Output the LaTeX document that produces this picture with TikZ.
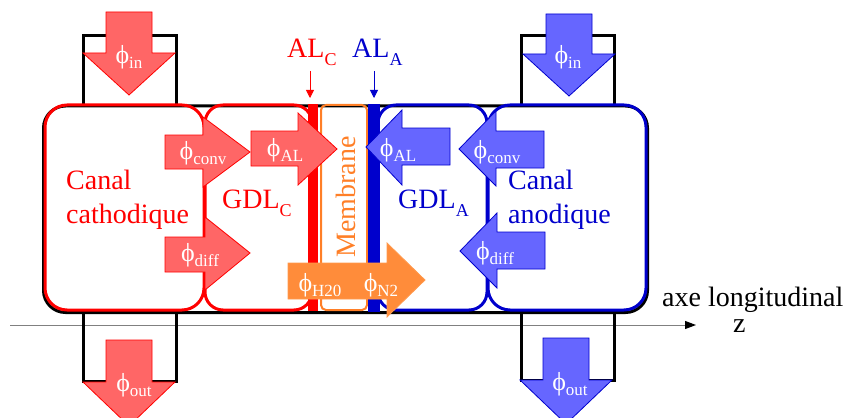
\documentclass[tikz,border=0pt]{standalone}
\usepackage{fontspec}
\setmainfont{Liberation Serif}
\usetikzlibrary{arrows.meta}
\definecolor{cred}{HTML}{FF0000}
\definecolor{redfill}{HTML}{FF6666}
\definecolor{cblue}{HTML}{0000CC}
\definecolor{bluefill}{HTML}{6666FF}
\definecolor{corange}{HTML}{FF7F27}
\definecolor{orangeline}{HTML}{FF9A4D}
\definecolor{orangefill}{HTML}{FF8C3A}
\definecolor{axisgray}{HTML}{808080}
\newcommand\bigtxt{\fontsize{28}{30}\selectfont}
\newcommand\bsub[1]{\raisebox{-8pt}{\fontsize{18}{18}\selectfont #1}}
\newcommand\phitxt[1]{{\fontsize{26}{26}\selectfont ϕ}\raisebox{-5pt}{\fontsize{17}{17}\selectfont #1}}
\begin{document}
\begin{tikzpicture}[x=1pt,y=-1pt,
  box/.style={line width=3pt, rounded corners=22pt},
  gdlbox/.style={line width=3pt, rounded corners=18pt},
  portbox/.style={draw=black, line width=3pt},
  redarrow/.style={fill=redfill, draw=cred, line width=0.8pt},
  bluearrow/.style={fill=bluefill, draw=cblue, line width=0.8pt},
  orangearrow/.style={fill=orangefill, draw=orangeline, line width=0.8pt},
  flux/.style={text=white, inner sep=0pt, anchor=center},
  bigred/.style={text=cred, inner sep=0pt, anchor=base west, font=\bigtxt},
  bigblue/.style={text=cblue, inner sep=0pt, anchor=base west, font=\bigtxt},
  pointer/.style={line width=0.8pt, -{Triangle[length=8pt,width=8pt]}}
]
\useasboundingbox (0,0) rectangle (850,417);

% axis
\coordinate (axS) at (10,325);
\coordinate (axE) at (696,325);
\draw[axisgray, line width=1pt, -{Triangle[length=11pt,width=8pt,color=black]}] (axS) -- (axE);
\node[inner sep=0pt, anchor=base west, font=\bigtxt] (axlabel) at (662,306) {axe longitudinal};
\node[inner sep=0pt, anchor=base west, font=\bigtxt] (zlabel) at (733,332) {z};

% outer black frame (shadow)
\draw[line width=3pt, rounded corners=22pt] (43.5,106) rectangle (647.5,312.5);

% ports
\draw[portbox] (83,105) -- (83,36) -- (176,36) -- (176,105);
\draw[portbox] (83,311) -- (83,381) -- (176,381) -- (176,311);
\draw[portbox] (521,105) -- (521,36) -- (614,36) -- (614,105);
\draw[portbox] (521,311) -- (521,380) -- (614,380) -- (614,311);

% boxes
\draw[box, cred] (45,105) rectangle (204,310);
\draw[gdlbox, cred] (205,105) rectangle (312,310);
\fill[cred] (308,104) rectangle (318,311);
\draw[corange, line width=2pt, rounded corners=5pt] (321,105) rectangle (367,310);
\draw[gdlbox, cblue] (378,105) rectangle (487,310);
\fill[cblue] (368,104) rectangle (380,312);
\draw[box, cblue] (488,105) rectangle (646,310);

% texts in boxes
\node[bigred] (canalc1) at (66,189) {Canal};
\node[bigred] (canalc2) at (66,223) {cathodique};
\node[bigred] (gdlc) at (222,208) {GDL\bsub{C}};
\node[bigblue] (gdla) at (398,208) {GDL\bsub{A}};
\node[bigblue] (canala1) at (508,189) {Canal};
\node[bigblue] (canala2) at (508,223) {anodique};
\node[text=corange, inner sep=0pt, font=\bigtxt, rotate=90] (membrane) at (346,197) {Membrane};

% AL labels
\node[bigred] (alc) at (287,58) {AL\bsub{C}};
\node[bigblue] (ala) at (352,58) {AL\bsub{A}};
\coordinate (alcS) at (310,71);
\coordinate (alcE) at (310,98);
\coordinate (alaS) at (374,71);
\coordinate (alaE) at (374,98);
\draw[pointer, cred] (alcS) -- (alcE);
\draw[pointer, cblue] (alaS) -- (alaE);

% inlet / outlet arrows
\draw[redarrow] (106,12) -- (152,12) -- (152,53) -- (175,53) -- (129,95) -- (83,53) -- (106,53) -- cycle;
\node[flux] (phiinc) at (129,57) {\phitxt{in}};
\draw[redarrow] (106,340) -- (152,340) -- (152,382) -- (175,382) -- (129,426) -- (83,382) -- (106,382) -- cycle;
\node[flux] (phioutc) at (134,385) {\phitxt{out}};
\draw[bluearrow] (546,14) -- (592,14) -- (592,54) -- (615,54) -- (569,96) -- (523,54) -- (546,54) -- cycle;
\node[flux] (phiina) at (568,57) {\phitxt{in}};
\draw[bluearrow] (543,338) -- (589,338) -- (589,380) -- (612,380) -- (566,424) -- (520,380) -- (543,380) -- cycle;
\node[flux] (phiouta) at (570,384) {\phitxt{out}};

% red horizontal arrows
\draw[redarrow] (165,135) -- (203,135) -- (203,117) -- (250,152) -- (203,187) -- (203,169) -- (165,169) -- cycle;
\node[flux] (phiconvc) at (203,153) {\phitxt{conv}};
\draw[redarrow] (251,131) -- (298,131) -- (298,113) -- (337,149) -- (298,185) -- (298,166) -- (251,166) -- cycle;
\node[flux] (phialc) at (285,150) {\phitxt{AL}};
\draw[redarrow] (165,237) -- (205,237) -- (205,217) -- (250,253) -- (205,290) -- (205,272) -- (165,272) -- cycle;
\node[flux] (phidiffc) at (200,255) {\phitxt{diff}};

% blue horizontal arrows
\draw[bluearrow] (450,128) -- (402,128) -- (402,110) -- (366,147) -- (402,185) -- (402,165) -- (450,165) -- cycle;
\node[flux] (phiala) at (398,150) {\phitxt{AL}};
\draw[bluearrow] (544,131) -- (496,131) -- (496,111) -- (459,149) -- (496,186) -- (496,168) -- (544,168) -- cycle;
\node[flux] (phiconva) at (497,152) {\phitxt{conv}};
\draw[bluearrow] (545,232) -- (497,232) -- (497,213) -- (460,251) -- (497,288) -- (497,269) -- (545,269) -- cycle;
\node[flux] (phidiffa) at (495,253) {\phitxt{diff}};

% orange arrow
\draw[orangearrow] (288,263) -- (387,263) -- (387,243) -- (425,280) -- (387,317) -- (387,299) -- (288,299) -- cycle;
\node[flux] (phih2o) at (320,285) {\phitxt{H20}};
\node[flux] (phin2) at (381,285) {\phitxt{N2}};
\end{tikzpicture}
\end{document}
